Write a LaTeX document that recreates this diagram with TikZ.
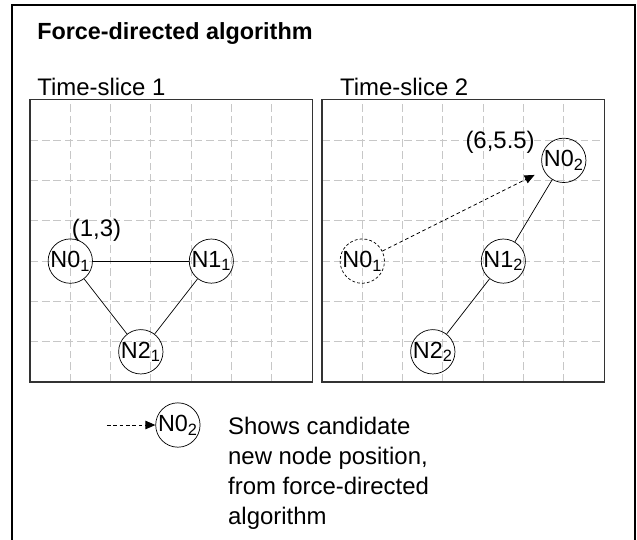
\documentclass[tikz,border=0pt]{standalone}
\usepackage{fontspec}
\setmainfont{Liberation Sans}
\usetikzlibrary{arrows.meta}

\tikzset{
  gnode/.style={circle,draw,line width=0.5pt,minimum size=0.99cm,inner sep=0pt,
    font=\fontsize{16.5}{18}\selectfont},
  ghost/.style={gnode,dash pattern=on 2pt off 1.5pt},
  gridline/.style={draw=black!22,line width=0.7pt,dash pattern=on 5.5pt off 2.8pt},
  panel/.style={draw=black!80,line width=0.8pt},
  edge/.style={line width=0.5pt},
  move/.style={line width=0.6pt,dash pattern=on 2.5pt off 2pt,
    -{Triangle[length=7pt,width=6pt]}},
  bigtext/.style={font=\fontsize{16.9}{21.1}\selectfont,inner sep=0pt}
}

\begin{document}
\begin{tikzpicture}

    \useasboundingbox (-0.744,-3.92) rectangle (15.062,9.479);
    \draw[line width=1.4pt] (-0.447,-4.5) -- (-0.447,9.355) -- (15.01,9.355) -- (15.01,-4.5);

    \node[anchor=base west,inner sep=0pt,font=\fontsize{16.5}{19}\selectfont\bfseries] (title) at (0.174,8.51) {Force-directed algorithm};

    \node[bigtext,anchor=base west] (ts1) at (0.174,7.12) {Time-slice 1};
    \node[bigtext,anchor=base west] (ts2) at (7.69,7.12) {Time-slice 2};

    % time-slice 1
    \draw[gridline] (0,0) grid (7,7);
    \draw[panel] (0,0) rectangle (7,7);

    \node[gnode] (n01) at (1,3) {N0\textsubscript{1}};
    \node[gnode] (n11) at (4.5,3) {N1\textsubscript{1}};
    \node[gnode] (n21) at (2.75,0.75) {N2\textsubscript{1}};
    \node[bigtext] (p13) at (1.65,3.77) {(1,3)};

    \draw[edge] (n01) -- (n11);
    \draw[edge] (n01) -- (n21);
    \draw[edge] (n11) -- (n21);

    % time-slice 2
    \begin{scope}[shift={(7.245,0)}]
        \draw[gridline] (0,0) grid (7,7);
        \draw[panel] (0,0) rectangle (7,7);

        \node[ghost] (n01b) at (1,3) {N0\textsubscript{1}};
        \node[gnode] (n12) at (4.5,3) {N1\textsubscript{2}};
        \node[gnode] (n22) at (2.75,0.75) {N2\textsubscript{2}};
        \node[gnode] (n02) at (6,5.5) {N0\textsubscript{2}};
        \node[bigtext] (p655) at (4.42,5.955) {(6,5.5)};

        \draw[edge] (n02) -- (n12);
        \draw[edge] (n12) -- (n22);
        \draw[move,shorten >=0.25cm] (n01b) -- (n02);
    \end{scope}

    % key
    \coordinate (keystart) at (1.91,-1.067);
    \node[gnode] (key) at (3.67,-1.067) {N0\textsubscript{2}};
    \draw[move] (keystart) -- (key);
    \node[bigtext,anchor=base west,align=left] (keytext) at (4.91,-3.524)
        {Shows candidate\\new node position,\\from force-directed\\algorithm};

\end{tikzpicture}
\end{document}
